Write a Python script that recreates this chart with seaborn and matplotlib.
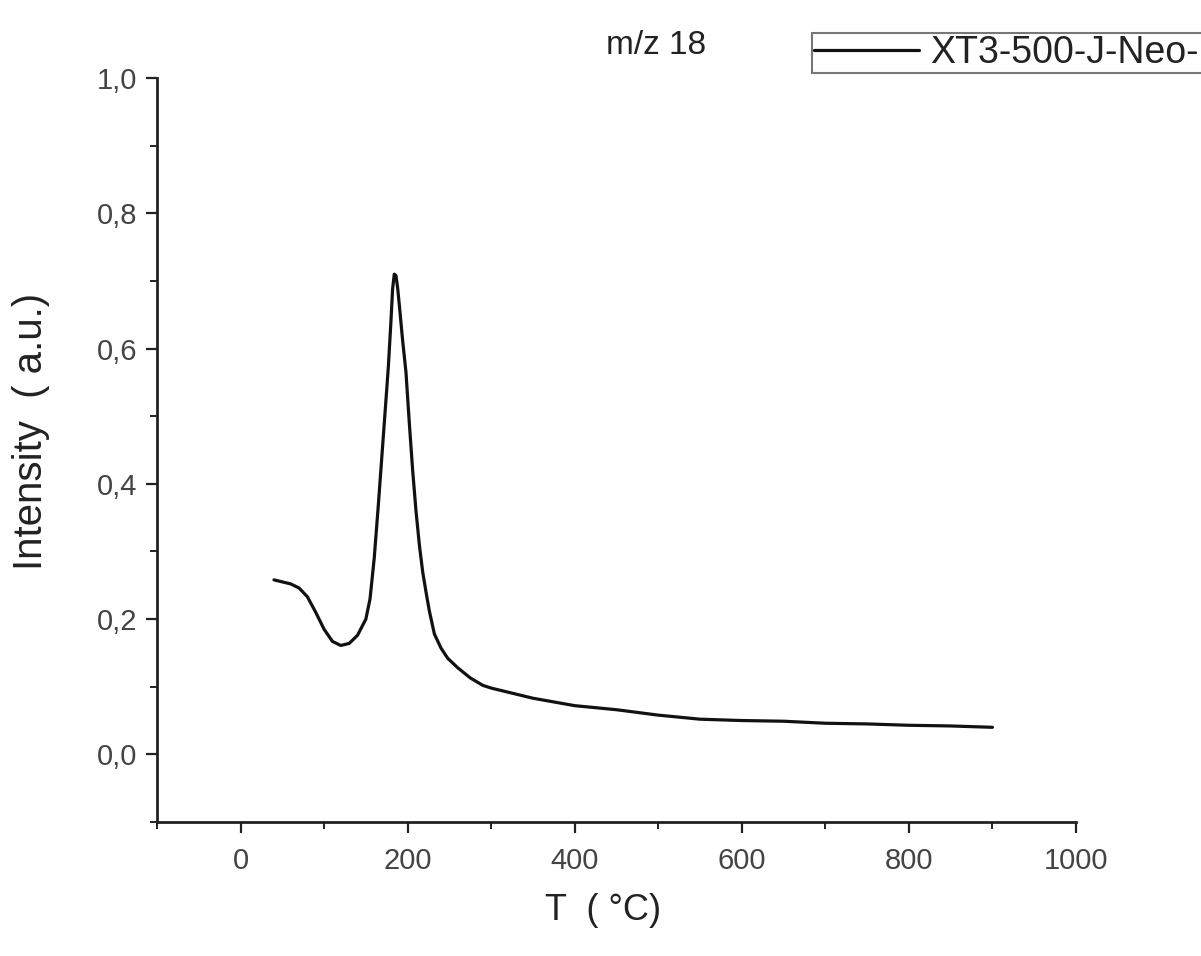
import matplotlib
matplotlib.use("Agg")
import matplotlib.pyplot as plt
import seaborn as sns
import pandas as pd
from matplotlib.ticker import MultipleLocator, FuncFormatter

temperature = [40, 50, 60, 70, 80, 90, 100, 110, 120, 130, 140, 150, 155, 160, 165,
               170, 175, 177, 180, 182, 184, 186, 188, 190, 194, 198, 202, 206, 210,
               214, 218, 222, 226, 232, 240, 248, 260, 275, 290, 300, 320, 350, 400,
               450, 500, 550, 600, 650, 700, 750, 800, 850, 900]
intensity = [0.258, 0.255, 0.252, 0.246, 0.233, 0.210, 0.185, 0.167, 0.161, 0.164,
             0.176, 0.200, 0.230, 0.290, 0.370, 0.455, 0.540, 0.575, 0.640, 0.688,
             0.710, 0.708, 0.690, 0.665, 0.612, 0.565, 0.490, 0.420, 0.360, 0.310,
             0.270, 0.240, 0.212, 0.178, 0.157, 0.142, 0.128, 0.113, 0.102, 0.098,
             0.092, 0.083, 0.072, 0.066, 0.058, 0.052, 0.050, 0.049, 0.046, 0.045,
             0.043, 0.042, 0.040]
series_label = "XT3-500-J-Neo-1"
title_text = "m/z 18"
x_label = "T  ( °C)"
y_label = "Intensity  ( a.u.)"

df = pd.DataFrame({"T": temperature, "I": intensity, "s": series_label})

sns.set_theme(style="ticks")
plt.rcParams["font.family"] = ["Liberation Sans", "DejaVu Sans"]

W, H = 1201, 956
fig = plt.figure(figsize=(W / 100, H / 100), dpi=100)
L, R, T, B = 157, 1076, 78, 822
ax = fig.add_axes([L / W, 1 - B / H, (R - L) / W, (B - T) / H])

sns.lineplot(data=df, x="T", y="I", hue="s", palette=["#111111"], ax=ax,
             linewidth=2.3, legend=True)

ax.set_xlim(-100, 1000)
ax.set_ylim(-0.1, 1.0)
ax.xaxis.set_major_locator(MultipleLocator(200))
ax.xaxis.set_minor_locator(MultipleLocator(100))
ax.yaxis.set_major_locator(MultipleLocator(0.2))
ax.yaxis.set_minor_locator(MultipleLocator(0.1))
ax.yaxis.set_major_formatter(FuncFormatter(lambda v, p: f"{v:.1f}".replace(".", ",")))
ax.xaxis.set_major_formatter(FuncFormatter(lambda v, p: f"{v:.0f}"))

for s in ["top", "right"]:
    ax.spines[s].set_visible(False)
for s in ["left", "bottom"]:
    ax.spines[s].set_linewidth(2)
    ax.spines[s].set_color("#222222")

ax.tick_params(axis="both", which="major", direction="out", length=8, width=1.6,
               color="#222222", labelsize=21, labelcolor="#444444")
ax.tick_params(axis="x", which="major", pad=10)
ax.tick_params(axis="y", which="major", pad=6)
ax.tick_params(axis="both", which="minor", direction="out", length=5, width=1.4,
               color="#222222")

ax.set_xlabel(x_label, fontsize=26, color="#222222")
ax.set_ylabel(y_label, fontsize=29, color="#222222")
ax.xaxis.label.set_va("center")
ax.yaxis.label.set_va("center")
ax.xaxis.set_label_coords((603 - L) / (R - L), (B - 910) / (B - T))
ax.yaxis.set_label_coords((31 - L) / (R - L), (B - 431) / (B - T))
ax.set_facecolor("white")
fig.patch.set_facecolor("white")

fig.text(656 / W, 1 - 46 / H, title_text, fontsize=24, color="#222222",
         ha="center", va="center")

leg = ax.legend(loc="upper left", bbox_to_anchor=(812 / W, 1 - 33 / H),
                bbox_transform=fig.transFigure, fontsize=27, frameon=True,
                fancybox=False, edgecolor="#777777", framealpha=1,
                handlelength=2.8, handletextpad=0.3, borderpad=0.05,
                borderaxespad=0)
leg.get_frame().set_linewidth(1.5)
for t in leg.get_texts():
    t.set_color("#222222")

fig.savefig("out.png", dpi=100)
